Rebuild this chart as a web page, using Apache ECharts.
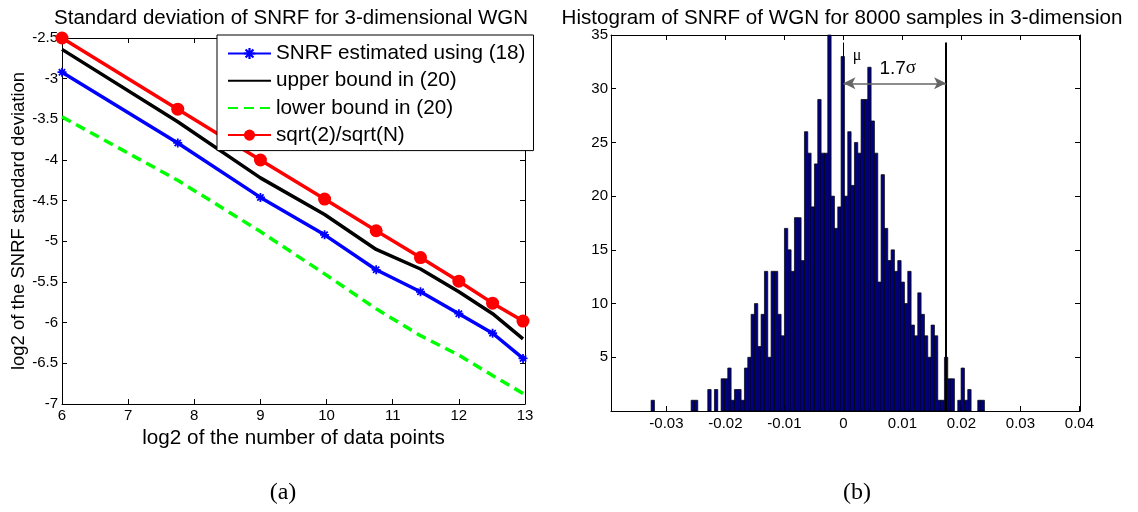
<!DOCTYPE html>
<html>
<head>
<meta charset="utf-8">
<script src="https://cdn.jsdelivr.net/npm/echarts@6/dist/echarts.min.js"></script>
<style>
  html, body { margin: 0; padding: 0; background: #fff; }
  #chart { width: 1138px; height: 512px; }
</style>
</head>
<body>
<div id="chart"></div>
<script>
// (a) standard deviation of SNRF
const log2N = [6, 7.75, 9, 9.97, 10.75, 11.42, 12, 12.51, 12.97];
const snrfEstimated = [-2.92, -3.79, -4.46, -4.92, -5.35, -5.62, -5.89, -6.13, -6.44];
const upperBound = [-2.64, -3.53, -4.22, -4.67, -5.10, -5.34, -5.62, -5.89, -6.20];
const lowerBound = [-3.47, -4.25, -4.88, -5.40, -5.83, -6.16, -6.40, -6.65, -6.87];
const sqrt2OverSqrtN = [-2.5, -3.375, -4.0, -4.48, -4.87, -5.2, -5.49, -5.76, -5.98];
const legendNames = ['SNRF estimated using (18)', 'upper bound in (20)', 'lower bound in (20)', 'sqrt(2)/sqrt(N)'];

// (b) histogram, 100 bins
const binStart = -0.0326;
const binWidth = 0.000565;
const binCounts = [
  1, 0, 0, 0, 0, 0, 0, 0, 0, 0,
  0, 0, 1, 1, 0, 0, 0, 2, 0, 2,
  0, 3, 3, 4, 1, 2, 2, 1, 4, 5,
  9, 10, 6, 9, 13, 5, 13, 13, 9, 7,
  17, 15, 13, 18, 18, 14, 26, 24, 19, 23,
  29, 24, 24, 35, 20, 17, 19, 33, 20, 26,
  21, 25, 24, 29, 29, 32, 27, 24, 12, 22,
  17, 14, 15, 13, 14, 12, 10, 13, 8, 7,
  11, 9, 7, 5, 8, 7, 1, 1, 5, 3,
  3, 0, 1, 4, 1, 2, 0, 0, 1, 1
];
const xTicksB = [-0.03, -0.02, -0.01, 0, 0.01, 0.02, 0.03, 0.04];
const muX = 0;
const sigmaX = 0.0174;   // 1.7 sigma
const lineTop = 34.3;
const arrowY = 30.5;

const FONT = '"Liberation Sans", Arial, sans-serif';
const SERIF = '"Liberation Serif", "Times New Roman", serif';
const asterisk = 'path://M-1,-5h2v10h-2z M-5,-1h10v2h-10z M-4.2,-2.8L-2.8,-4.2L4.2,2.8L2.8,4.2z M2.8,-4.2L4.2,-2.8L-2.8,4.2L-4.2,2.8z';

const chart = echarts.init(document.getElementById('chart'));

const tick = { inside: true, length: 5, lineStyle: { color: '#000', width: 1 } };
const axLine = { show: true, onZero: false, lineStyle: { color: '#000', width: 1 } };
const lbl = { color: '#000', fontSize: 15, fontFamily: FONT };

const pairs = ys => log2N.map((x, i) => [x, ys[i]]);

const histData = binCounts
  .map((c, i) => [binStart + i * binWidth, binStart + (i + 1) * binWidth, c])
  .filter(d => d[2] > 0);

const option = {
  animation: false,
  textStyle: { fontFamily: FONT },
  graphic: [
    { type: 'text', x: 291, y: 18, style: { text: 'Standard deviation of SNRF for 3-dimensional WGN', font: '20.5px ' + FONT, fill: '#000', textAlign: 'center', textVerticalAlign: 'middle' } },
    { type: 'text', x: 842, y: 18, style: { text: 'Histogram of SNRF of WGN for 8000 samples in 3-dimension', font: '20.6px ' + FONT, fill: '#000', textAlign: 'center', textVerticalAlign: 'middle' } },
    { type: 'text', x: 283, y: 493, style: { text: '(a)', font: '24px ' + SERIF, fill: '#000', textAlign: 'center', textVerticalAlign: 'middle' } },
    { type: 'text', x: 857, y: 493, style: { text: '(b)', font: '24px ' + SERIF, fill: '#000', textAlign: 'center', textVerticalAlign: 'middle' } }
  ],
  legend: {
    data: [
      legendNames[0],
      { name: legendNames[1], itemStyle: { opacity: 0 } },
      { name: legendNames[2], itemStyle: { opacity: 0 } },
      legendNames[3]
    ],
    orient: 'vertical',
    left: 217,
    top: 35,
    padding: [8, 8, 5, 10],
    itemWidth: 43,
    itemHeight: 14,
    itemGap: 6.2,
    borderColor: '#000',
    borderWidth: 1,
    borderRadius: 0,
    backgroundColor: '#fff',
    textStyle: { fontSize: 20.7, color: '#000', fontFamily: FONT, lineHeight: 20 }
  },
  grid: [
    { left: 62, top: 38, width: 463, height: 366 },
    { left: 611, top: 35, width: 469, height: 376 }
  ],
  xAxis: [
    {
      gridIndex: 0, type: 'value', min: 6, max: 13, interval: 1, position: 'bottom',
      axisLine: axLine, axisTick: tick, splitLine: { show: false },
      axisLabel: Object.assign({ margin: 4 }, lbl),
      name: 'log2 of the number of data points', nameLocation: 'middle', nameGap: 23,
      nameTextStyle: { fontSize: 20.7, color: '#000', fontFamily: FONT }
    },
    {
      gridIndex: 0, type: 'value', min: 6, max: 13, interval: 1, position: 'top',
      axisLine: axLine, axisTick: tick, splitLine: { show: false }, axisLabel: { show: false }
    },
    {
      gridIndex: 1, type: 'value', min: -0.0394, max: 0.0401, position: 'bottom',
      axisLine: axLine, splitLine: { show: false },
      axisTick: Object.assign({ customValues: xTicksB }, tick),
      axisLabel: Object.assign({ margin: 5, customValues: xTicksB, formatter: v => String(+v.toFixed(2)) }, lbl)
    },
    {
      gridIndex: 1, type: 'value', min: -0.0394, max: 0.0401, position: 'top',
      axisLine: axLine, splitLine: { show: false },
      axisTick: Object.assign({ customValues: xTicksB }, tick),
      axisLabel: { show: false }
    }
  ],
  yAxis: [
    {
      gridIndex: 0, type: 'value', min: -7, max: -2.5, interval: 0.5, position: 'left',
      axisLine: axLine, axisTick: tick, splitLine: { show: false },
      axisLabel: Object.assign({ margin: 4 }, lbl),
      name: 'log2 of the SNRF standard deviation', nameLocation: 'middle', nameGap: 32,
      nameTextStyle: { fontSize: 18.5, color: '#000', fontFamily: FONT }
    },
    {
      gridIndex: 0, type: 'value', min: -7, max: -2.5, interval: 0.5, position: 'right',
      axisLine: axLine, axisTick: tick, splitLine: { show: false }, axisLabel: { show: false }
    },
    {
      gridIndex: 1, type: 'value', min: 0, max: 35, interval: 5, position: 'left',
      axisLine: axLine, axisTick: tick, splitLine: { show: false },
      axisLabel: Object.assign({ margin: 3, formatter: v => (v === 0 ? '' : String(v)) }, lbl)
    },
    {
      gridIndex: 1, type: 'value', min: 0, max: 35, interval: 5, position: 'right',
      axisLine: axLine, axisTick: tick, splitLine: { show: false }, axisLabel: { show: false }
    }
  ],
  series: [
    {
      name: legendNames[0], type: 'line', xAxisIndex: 0, yAxisIndex: 0,
      data: pairs(snrfEstimated),
      symbol: asterisk, symbolSize: 9,
      lineStyle: { color: '#0000ff', width: 3.5 },
      itemStyle: { color: '#0000ff' }
    },
    {
      name: legendNames[1], type: 'line', xAxisIndex: 0, yAxisIndex: 0,
      data: pairs(upperBound), symbol: 'none',
      lineStyle: { color: '#000000', width: 3.5 },
      itemStyle: { color: '#000000' }
    },
    {
      name: legendNames[2], type: 'line', xAxisIndex: 0, yAxisIndex: 0,
      data: pairs(lowerBound), symbol: 'none',
      lineStyle: { color: '#00ff00', width: 3.5, type: [10, 6] },
      itemStyle: { color: '#00ff00' }
    },
    {
      name: legendNames[3], type: 'line', xAxisIndex: 0, yAxisIndex: 0,
      data: pairs(sqrt2OverSqrtN),
      symbol: 'circle', symbolSize: 13,
      lineStyle: { color: '#ff0000', width: 3.5 },
      itemStyle: { color: '#ff0000' }
    },
    {
      name: 'hist', type: 'custom', xAxisIndex: 2, yAxisIndex: 2,
      data: histData,
      encode: { x: [0, 1], y: 2 },
      renderItem: (params, api) => {
        const p0 = api.coord([api.value(0), 0]);
        const p1 = api.coord([api.value(1), api.value(2)]);
        return {
          type: 'rect',
          shape: { x: p0[0], y: p1[1], width: p1[0] - p0[0], height: p0[1] - p1[1] },
          style: { fill: '#000080', stroke: '#000', lineWidth: 0.7 }
        };
      }
    },
    {
      name: 'annot', type: 'line', xAxisIndex: 2, yAxisIndex: 2, data: [],
      markLine: {
        silent: true, symbol: 'none', animation: false,
        label: { show: false },
        lineStyle: { color: '#000', width: 1, type: 'solid' },
        data: [
          [{ coord: [muX, 0] }, { coord: [muX, lineTop] }],
          [{ coord: [sigmaX, 0], lineStyle: { width: 2 } }, { coord: [sigmaX, lineTop] }],
          [
            { coord: [muX, arrowY], symbol: 'arrow', symbolSize: [9, 12], lineStyle: { color: '#666', width: 1.5 } },
            { coord: [sigmaX, arrowY], symbol: 'arrow', symbolSize: [9, 12] }
          ]
        ]
      },
      markPoint: {
        silent: true, symbol: 'circle', symbolSize: 0,
        data: [
          { name: 'μ', coord: [0.0023, 33.1],
            label: { show: true, formatter: '{b}', color: '#000', fontSize: 16, fontFamily: SERIF, position: 'inside' } },
          { name: '1.7σ', coord: [0.0092, 31.9],
            label: { show: true, position: 'inside', formatter: '{a|1.7}{b|σ}',
              rich: { a: { fontSize: 19, color: '#000', fontFamily: FONT }, b: { fontSize: 19, color: '#000', fontFamily: SERIF } } } }
        ]
      }
    }
  ]
};

chart.setOption(option);
</script>
</body>
</html>
